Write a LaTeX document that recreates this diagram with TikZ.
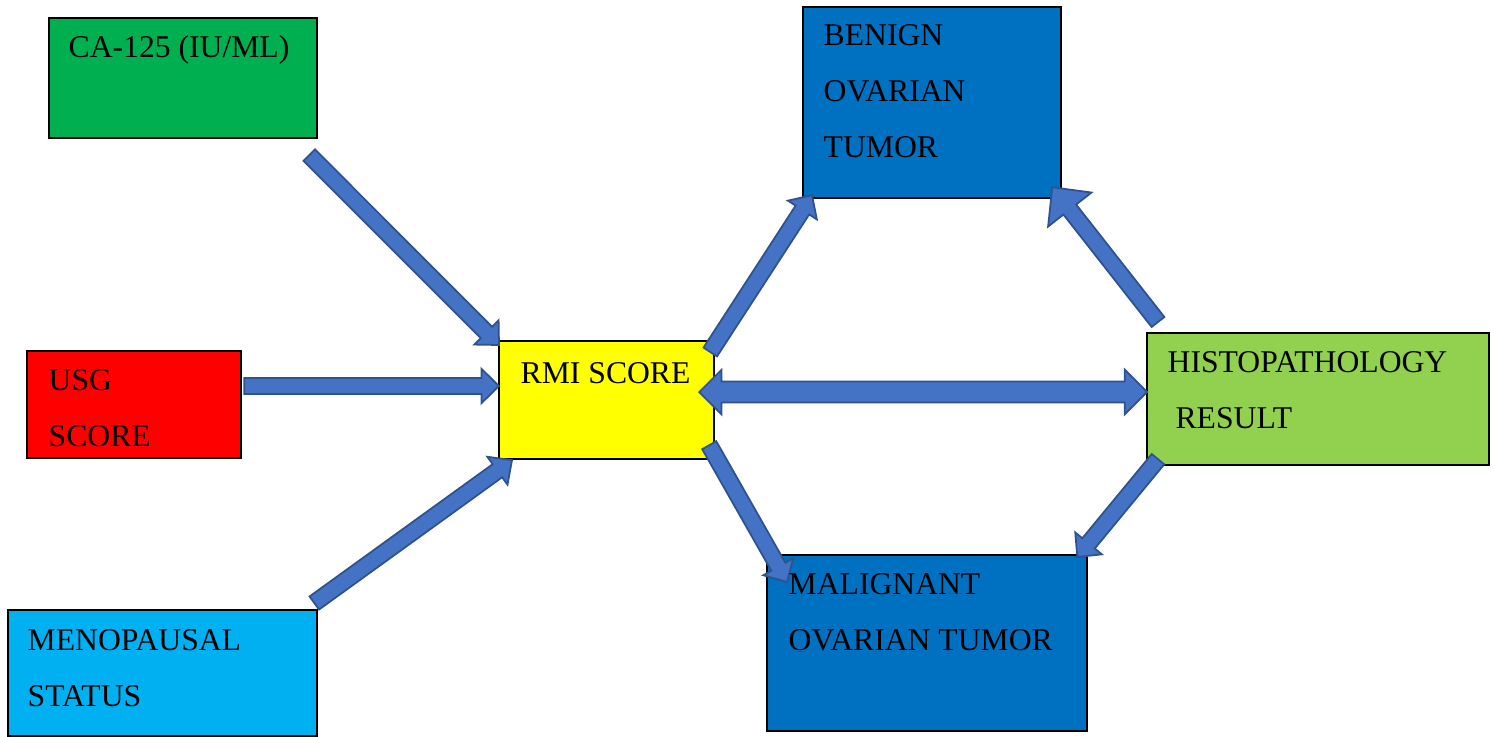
\documentclass[tikz,border=0pt]{standalone}
\usepackage{fontspec}
\setmainfont{Liberation Serif}
\usepackage{tikz}
\usepackage{xcolor}
\usetikzlibrary{calc}

\definecolor{cagreen}{HTML}{00B050}
\definecolor{usgred}{HTML}{FF0000}
\definecolor{menoblue}{HTML}{00B0F0}
\definecolor{rmiyellow}{HTML}{FFFF00}
\definecolor{tumorblue}{HTML}{0070C0}
\definecolor{histogreen}{HTML}{92D050}
\definecolor{arrowfill}{HTML}{4472C4}
\definecolor{arrowline}{HTML}{2F528F}

\tikzset{
  box/.style={draw=black, line width=0.6pt, anchor=north west, inner sep=0pt},
  boxtext/.style={anchor=base west, align=left, inner sep=0pt, font=\fontsize{9}{15.8}\selectfont},
  arrowbody/.style={fill=arrowfill, draw=arrowline, line width=0.5pt, line join=miter}
}

% block arrow from #2 to #3, #1 scales the head
\newcommand{\blockarrow}[3][1]{%
  \path[arrowbody] let \p1=(#2), \p2=(#3),
    \n1={atan2(\y2-\y1,\x2-\x1)}, \n2={veclen(\x2-\x1,\y2-\y1)},
    \n3={2.3pt}, \n4={#1*4.9pt}, \n5={#1*5pt} in
    ($(\p1)+(\n1+90:\n3)$)
    -- ($(\p1)+(\n1:\n2-\n5)+(\n1+90:\n3)$)
    -- ($(\p1)+(\n1:\n2-\n5)+(\n1+90:\n4)$)
    -- (\p2)
    -- ($(\p1)+(\n1:\n2-\n5)+(\n1-90:\n4)$)
    -- ($(\p1)+(\n1:\n2-\n5)+(\n1-90:\n3)$)
    -- ($(\p1)+(\n1-90:\n3)$) -- cycle;}

% same, with a head on both ends
\newcommand{\dblockarrow}[2]{%
  \path[arrowbody] let \p1=(#1), \p2=(#2),
    \n1={atan2(\y2-\y1,\x2-\x1)}, \n2={veclen(\x2-\x1,\y2-\y1)},
    \n3={3pt}, \n4={6.3pt}, \n5={6.3pt} in
    (\p1)
    -- ($(\p1)+(\n1:\n5)+(\n1+90:\n4)$)
    -- ($(\p1)+(\n1:\n5)+(\n1+90:\n3)$)
    -- ($(\p1)+(\n1:\n2-\n5)+(\n1+90:\n3)$)
    -- ($(\p1)+(\n1:\n2-\n5)+(\n1+90:\n4)$)
    -- (\p2)
    -- ($(\p1)+(\n1:\n2-\n5)+(\n1-90:\n4)$)
    -- ($(\p1)+(\n1:\n2-\n5)+(\n1-90:\n3)$)
    -- ($(\p1)+(\n1:\n5)+(\n1-90:\n3)$)
    -- ($(\p1)+(\n1:\n5)+(\n1-90:\n4)$) -- cycle;}

\begin{document}
\begin{tikzpicture}[x=0.01cm,y=-0.01cm]
\useasboundingbox (0,0) rectangle (1494,736);

\node[box, fill=cagreen, minimum width=2.68cm, minimum height=1.2cm] (ca) at (48,17) {};
\node[box, fill=usgred, minimum width=2.14cm, minimum height=1.07cm] (usg) at (26,350) {};
\node[box, fill=menoblue, minimum width=3.09cm, minimum height=1.26cm] (meno) at (7,609) {};
\node[box, fill=rmiyellow, minimum width=2.15cm, minimum height=1.18cm] (rmi) at (498,340) {};
\node[box, fill=tumorblue, minimum width=2.58cm, minimum height=1.91cm] (benign) at (802,6) {};
\node[box, fill=tumorblue, minimum width=3.2cm, minimum height=1.76cm] (malig) at (766,554) {};
\node[box, fill=histogreen, minimum width=3.42cm, minimum height=1.32cm] (histo) at (1146,332) {};

\blockarrow{[shift={(-9,16)}]ca.south east}{[shift={(1,5)}]rmi.north west}
\blockarrow{[shift={(2,36)}]usg.north east}{[shift={(1,46)}]rmi.north west}
\blockarrow{[shift={(-4,-6)}]meno.north east}{[shift={(14,0)}]rmi.south west}
\blockarrow{[shift={(-5,12)}]rmi.north east}{[shift={(10,-4)}]benign.south west}
\blockarrow{[shift={(-6,-15)}]rmi.south east}{[shift={(21,28)}]malig.north west}
\dblockarrow{[shift={(-16,52)}]rmi.north east}{[shift={(1,60)}]histo.north west}
\blockarrow[1.6]{[shift={(12,-10)}]histo.north west}{[shift={(-10,-12)}]benign.south east}
\blockarrow{[shift={(12,-7)}]histo.south west}{[shift={(-11,3)}]malig.north east}

% base west sits on the last line
\node[boxtext] (catext) at ([shift={(20,40)}]ca.north west) {CA-125 (IU/ML)};
\node[boxtext] (usgtext) at ([shift={(22,96)}]usg.north west) {USG\\SCORE};
\node[boxtext] (menotext) at ([shift={(20,97)}]meno.north west) {MENOPAUSAL\\STATUS};
\node[boxtext] (rmitext) at ([shift={(22,43)}]rmi.north west) {RMI SCORE};
\node[boxtext] (benigntext) at ([shift={(21,151)}]benign.north west) {BENIGN\\OVARIAN\\TUMOR};
\node[boxtext] (maligtext) at ([shift={(22,96)}]malig.north west) {MALIGNANT\\OVARIAN TUMOR};
\node[boxtext] (histotext) at ([shift={(21,96)}]histo.north west) {HISTOPATHOLOGY\\\ RESULT};

\end{tikzpicture}
\end{document}
